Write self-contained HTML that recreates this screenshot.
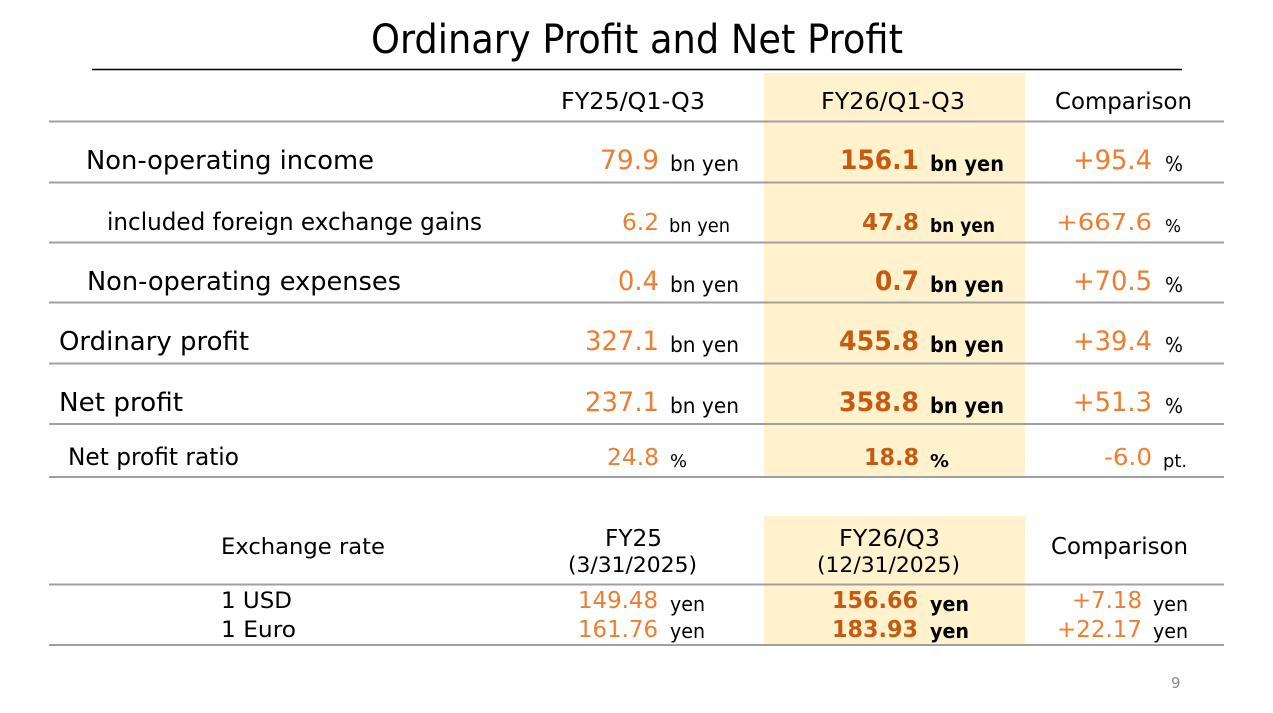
<!DOCTYPE html>
<html>
<head>
<meta charset="utf-8">
<style>
  html,body{margin:0;padding:0;background:#fff;}
  svg{display:block;}
  text{font-family:"DejaVu Sans","Liberation Sans",sans-serif;}
  .o{fill:#ED7D31;}
  .b{fill:#C55A11;font-weight:bold;}
  .k{fill:#000;}
  .kb{fill:#000;font-weight:bold;}
</style>
</head>
<body>
<svg width="1273" height="713" viewBox="0 0 1273 713" xmlns="http://www.w3.org/2000/svg">
  <rect x="0" y="0" width="1273" height="713" fill="#fff"/>
  <!-- yellow columns -->
  <rect x="764" y="73" width="261" height="404" fill="#FFF2CC"/>
  <rect x="764" y="516" width="261" height="129" fill="#FFF2CC"/>

  <!-- title -->
  <text x="371" y="53" font-size="40" textLength="532" lengthAdjust="spacingAndGlyphs" class="k">Ordinary Profit and Net Profit</text>
  <line x1="92" y1="69.5" x2="1182" y2="69.5" stroke="#000" stroke-width="1.5"/>

  <!-- grid lines -->
  <g stroke="#A0A0A0" stroke-width="2">
    <line x1="49" y1="121.5" x2="1224" y2="121.5"/>
    <line x1="49" y1="182.5" x2="1224" y2="182.5"/>
    <line x1="49" y1="242.5" x2="1224" y2="242.5"/>
    <line x1="49" y1="302.5" x2="1224" y2="302.5"/>
    <line x1="49" y1="363.5" x2="1224" y2="363.5"/>
    <line x1="49" y1="424" x2="1224" y2="424"/>
    <line x1="49" y1="477" x2="1224" y2="477"/>
    <line x1="49" y1="584.5" x2="1224" y2="584.5"/>
    <line x1="49" y1="645" x2="1224" y2="645"/>
  </g>

  <!-- header -->
  <text x="561" y="109" font-size="23" textLength="144" lengthAdjust="spacingAndGlyphs" class="k">FY25/Q1-Q3</text>
  <text x="821" y="109" font-size="23" textLength="144" lengthAdjust="spacingAndGlyphs" class="k">FY26/Q1-Q3</text>
  <text x="1055" y="109" font-size="23" textLength="137" lengthAdjust="spacingAndGlyphs" class="k">Comparison</text>

  <!-- row 1 -->
  <text x="86" y="169" font-size="26" textLength="288" lengthAdjust="spacingAndGlyphs" class="k">Non-operating income</text>
  <text x="600" y="169" font-size="27" textLength="59" lengthAdjust="spacingAndGlyphs" class="o">79.9</text>
  <text x="670" y="171" font-size="21" textLength="69" lengthAdjust="spacingAndGlyphs" class="k">bn yen</text>
  <text x="840" y="169" font-size="27" textLength="79" lengthAdjust="spacingAndGlyphs" class="b">156.1</text>
  <text x="930" y="171" font-size="21" textLength="74" lengthAdjust="spacingAndGlyphs" class="kb">bn yen</text>
  <text x="1073" y="169" font-size="27" textLength="79" lengthAdjust="spacingAndGlyphs" class="o">+95.4</text>
  <text x="1165" y="171" font-size="20" textLength="18" lengthAdjust="spacingAndGlyphs" class="k">%</text>

  <!-- row 2 -->
  <text x="107" y="230" font-size="24" textLength="375" lengthAdjust="spacingAndGlyphs" class="k">included foreign exchange gains</text>
  <text x="622" y="230" font-size="23" textLength="37" lengthAdjust="spacingAndGlyphs" class="o">6.2</text>
  <text x="669" y="232" font-size="19" textLength="61" lengthAdjust="spacingAndGlyphs" class="k">bn yen</text>
  <text x="862" y="230" font-size="23" textLength="57" lengthAdjust="spacingAndGlyphs" class="b">47.8</text>
  <text x="930" y="232" font-size="19" textLength="65" lengthAdjust="spacingAndGlyphs" class="kb">bn yen</text>
  <text x="1056" y="230" font-size="23" textLength="96" lengthAdjust="spacingAndGlyphs" class="o">+667.6</text>
  <text x="1165" y="232" font-size="18" textLength="16" lengthAdjust="spacingAndGlyphs" class="k">%</text>

  <!-- row 3 -->
  <text x="87" y="290" font-size="26" textLength="314" lengthAdjust="spacingAndGlyphs" class="k">Non-operating expenses</text>
  <text x="618" y="290" font-size="27" textLength="41" lengthAdjust="spacingAndGlyphs" class="o">0.4</text>
  <text x="670" y="292" font-size="21" textLength="69" lengthAdjust="spacingAndGlyphs" class="k">bn yen</text>
  <text x="875" y="290" font-size="27" textLength="44" lengthAdjust="spacingAndGlyphs" class="b">0.7</text>
  <text x="930" y="292" font-size="21" textLength="74" lengthAdjust="spacingAndGlyphs" class="kb">bn yen</text>
  <text x="1073" y="290" font-size="27" textLength="79" lengthAdjust="spacingAndGlyphs" class="o">+70.5</text>
  <text x="1165" y="292" font-size="20" textLength="18" lengthAdjust="spacingAndGlyphs" class="k">%</text>

  <!-- row 4 -->
  <text x="59" y="350" font-size="26" textLength="190" lengthAdjust="spacingAndGlyphs" class="k">Ordinary profit</text>
  <text x="585" y="350" font-size="27" textLength="74" lengthAdjust="spacingAndGlyphs" class="o">327.1</text>
  <text x="670" y="352" font-size="21" textLength="69" lengthAdjust="spacingAndGlyphs" class="k">bn yen</text>
  <text x="839" y="350" font-size="27" textLength="80" lengthAdjust="spacingAndGlyphs" class="b">455.8</text>
  <text x="930" y="352" font-size="21" textLength="74" lengthAdjust="spacingAndGlyphs" class="kb">bn yen</text>
  <text x="1073" y="350" font-size="27" textLength="79" lengthAdjust="spacingAndGlyphs" class="o">+39.4</text>
  <text x="1165" y="352" font-size="20" textLength="18" lengthAdjust="spacingAndGlyphs" class="k">%</text>

  <!-- row 5 -->
  <text x="59" y="411" font-size="26" textLength="124" lengthAdjust="spacingAndGlyphs" class="k">Net profit</text>
  <text x="585" y="411" font-size="27" textLength="74" lengthAdjust="spacingAndGlyphs" class="o">237.1</text>
  <text x="670" y="413" font-size="21" textLength="69" lengthAdjust="spacingAndGlyphs" class="k">bn yen</text>
  <text x="839" y="411" font-size="27" textLength="80" lengthAdjust="spacingAndGlyphs" class="b">358.8</text>
  <text x="930" y="413" font-size="21" textLength="74" lengthAdjust="spacingAndGlyphs" class="kb">bn yen</text>
  <text x="1073" y="411" font-size="27" textLength="79" lengthAdjust="spacingAndGlyphs" class="o">+51.3</text>
  <text x="1165" y="413" font-size="20" textLength="18" lengthAdjust="spacingAndGlyphs" class="k">%</text>

  <!-- row 6 -->
  <text x="68" y="465" font-size="24" textLength="171" lengthAdjust="spacingAndGlyphs" class="k">Net profit ratio</text>
  <text x="607" y="465" font-size="23" textLength="52" lengthAdjust="spacingAndGlyphs" class="o">24.8</text>
  <text x="670" y="467" font-size="18" textLength="17" lengthAdjust="spacingAndGlyphs" class="k">%</text>
  <text x="864" y="465" font-size="23" textLength="55" lengthAdjust="spacingAndGlyphs" class="b">18.8</text>
  <text x="930" y="467" font-size="18" textLength="19" lengthAdjust="spacingAndGlyphs" class="kb">%</text>
  <text x="1104" y="465" font-size="23" textLength="48" lengthAdjust="spacingAndGlyphs" class="o">-6.0</text>
  <text x="1163" y="467" font-size="18" textLength="24" lengthAdjust="spacingAndGlyphs" class="k">pt.</text>

  <!-- exchange table header -->
  <text x="221" y="554" font-size="22" textLength="164" lengthAdjust="spacingAndGlyphs" class="k">Exchange rate</text>
  <text x="605" y="546" font-size="23" textLength="57" lengthAdjust="spacingAndGlyphs" class="k">FY25</text>
  <text x="568" y="572" font-size="21" textLength="129" lengthAdjust="spacingAndGlyphs" class="k">(3/31/2025)</text>
  <text x="839" y="546" font-size="23" textLength="101" lengthAdjust="spacingAndGlyphs" class="k">FY26/Q3</text>
  <text x="817" y="572" font-size="21" textLength="143" lengthAdjust="spacingAndGlyphs" class="k">(12/31/2025)</text>
  <text x="1051" y="554" font-size="23" textLength="137" lengthAdjust="spacingAndGlyphs" class="k">Comparison</text>

  <!-- USD -->
  <text x="221" y="608" font-size="22" textLength="71" lengthAdjust="spacingAndGlyphs" class="k">1 USD</text>
  <text x="578" y="608" font-size="23" textLength="80" lengthAdjust="spacingAndGlyphs" class="o">149.48</text>
  <text x="670" y="611" font-size="20" textLength="35" lengthAdjust="spacingAndGlyphs" class="k">yen</text>
  <text x="832" y="608" font-size="23" textLength="86" lengthAdjust="spacingAndGlyphs" class="b">156.66</text>
  <text x="930" y="611" font-size="20" textLength="39" lengthAdjust="spacingAndGlyphs" class="kb">yen</text>
  <text x="1072" y="608" font-size="23" textLength="70" lengthAdjust="spacingAndGlyphs" class="o">+7.18</text>
  <text x="1153" y="611" font-size="20" textLength="35" lengthAdjust="spacingAndGlyphs" class="k">yen</text>

  <!-- Euro -->
  <text x="221" y="637" font-size="22" textLength="75" lengthAdjust="spacingAndGlyphs" class="k">1 Euro</text>
  <text x="578" y="637" font-size="23" textLength="80" lengthAdjust="spacingAndGlyphs" class="o">161.76</text>
  <text x="670" y="638" font-size="20" textLength="35" lengthAdjust="spacingAndGlyphs" class="k">yen</text>
  <text x="832" y="637" font-size="23" textLength="86" lengthAdjust="spacingAndGlyphs" class="b">183.93</text>
  <text x="930" y="638" font-size="20" textLength="39" lengthAdjust="spacingAndGlyphs" class="kb">yen</text>
  <text x="1057" y="637" font-size="23" textLength="85" lengthAdjust="spacingAndGlyphs" class="o">+22.17</text>
  <text x="1153" y="638" font-size="20" textLength="35" lengthAdjust="spacingAndGlyphs" class="k">yen</text>

  <!-- page number -->
  <text x="1171" y="688" font-size="15" fill="#8C8C8C">9</text>
</svg>
</body>
</html>
